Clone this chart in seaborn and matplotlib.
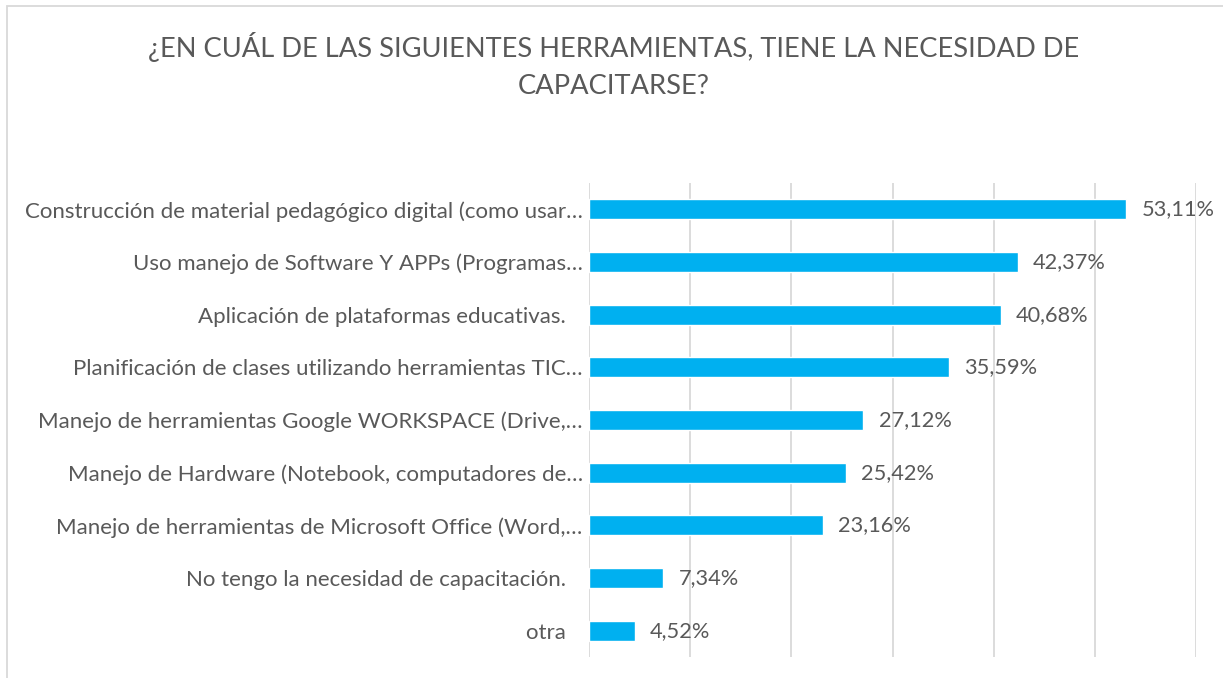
import matplotlib
matplotlib.use("Agg")
import matplotlib.pyplot as plt
import seaborn as sns
import pandas as pd
from matplotlib.patches import Rectangle

categories = [
    "Construcción de material pedagógico digital (como usar…",
    "Uso manejo de Software Y APPs (Programas…",
    "Aplicación de plataformas educativas.   ",
    "Planificación de clases utilizando herramientas TIC…",
    "Manejo de herramientas Google WORKSPACE (Drive,…",
    "Manejo de Hardware (Notebook, computadores de…",
    "Manejo de herramientas de Microsoft Office (Word,…",
    "No tengo la necesidad de capacitación.   ",
    "otra   ",
]
values = [53.11, 42.37, 40.68, 35.59, 27.12, 25.42, 23.16, 7.34, 4.52]
value_labels = ["53,11%", "42,37%", "40,68%", "35,59%", "27,12%",
                "25,42%", "23,16%", "7,34%", "4,52%"]

df = pd.DataFrame({"cat": categories, "val": values})

sns.set_theme(style="white")
plt.rcParams["font.family"] = ["Lato", "DejaVu Sans"]

text_color = "#595959"
fig = plt.figure(figsize=(12.23, 6.78), dpi=100)
ax = fig.add_axes([589 / 1223, 1 - 657 / 678, (1196 - 589) / 1223, (657 - 183) / 678])

sns.barplot(data=df, y="cat", x="val", color="#00B0F0", width=0.38,
            saturation=1, ax=ax, zorder=3)

ax.set_xlim(0, 60)
ax.set_xticks(range(0, 61, 10))
ax.grid(axis="x", color="#D9D9D9", linewidth=1.3, zorder=0)
ax.grid(axis="y", visible=False)
ax.tick_params(axis="x", bottom=False, labelbottom=False)
ax.tick_params(axis="y", left=False, length=0, pad=4.5, labelsize=16, labelcolor=text_color)
ax.set_xlabel("")
ax.set_ylabel("")
for s in ax.spines.values():
    s.set_visible(False)

for i, (v, lab) in enumerate(zip(values, value_labels)):
    ax.text(v + 1.5, i, lab, va="center", ha="left", fontsize=15.7, color=text_color)

fig.text(0.502, 1 - 47 / 678, "¿EN CUÁL DE LAS SIGUIENTES HERRAMIENTAS, TIENE LA NECESIDAD DE",
         ha="center", va="center", fontsize=19.6, color=text_color)
fig.text(0.502, 1 - 86 / 678, "CAPACITARSE?",
         ha="center", va="center", fontsize=19.6, color=text_color)

# chart border
fig.patches.append(Rectangle((7 / 1223, -0.1), 1.2, 1 - 6 / 678 + 0.1,
                             transform=fig.transFigure, fill=False,
                             edgecolor="#D9D9D9", linewidth=1.3))

fig.savefig("out.png", dpi=100, facecolor="white")
